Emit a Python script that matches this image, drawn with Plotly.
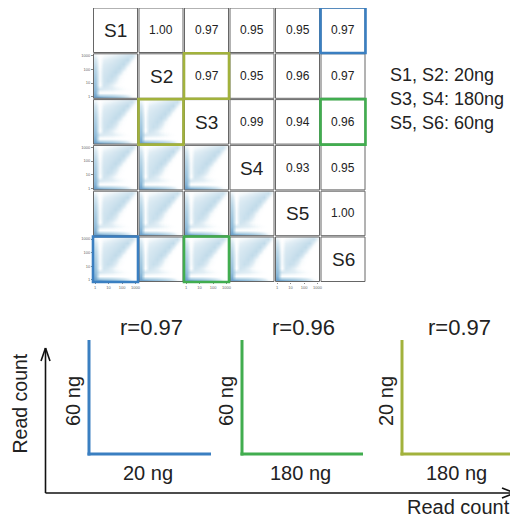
import plotly.graph_objects as go

W, H = 518, 517          # target page size
OFF = 8                  # default page body margin of the written html
FW, FH = W - OFF, H - OFF
FONT = "Liberation Sans, Arial, Helvetica, sans-serif"

# ---------------- data ----------------
samples = ["S1", "S2", "S3", "S4", "S5", "S6"]
# upper-triangle Pearson r (row sample, column sample)
corr_pairs = {
    ("S1", "S2"): 1.00, ("S1", "S3"): 0.97, ("S1", "S4"): 0.95, ("S1", "S5"): 0.95, ("S1", "S6"): 0.97,
    ("S2", "S3"): 0.97, ("S2", "S4"): 0.95, ("S2", "S5"): 0.96, ("S2", "S6"): 0.97,
    ("S3", "S4"): 0.99, ("S3", "S5"): 0.94, ("S3", "S6"): 0.96,
    ("S4", "S5"): 0.93, ("S4", "S6"): 0.95,
    ("S5", "S6"): 1.00,
}
amount_labels = ["S1, S2: 20ng", "S3, S4: 180ng", "S5, S6: 60ng"]
highlights = [("S1", "S6", "#3a7fc1"), ("S2", "S3", "#a2b23c"), ("S3", "S6", "#41ad4f")]
comp_r = [0.97, 0.96, 0.97]
comp_y = ["60 ng", "60 ng", "20 ng"]
comp_x = ["20 ng", "180 ng", "180 ng"]
comp_colors = ["#3a7fc1", "#41ad4f", "#a2b23c"]
axis_label = "Read count"

tick_vals = [0, 1, 2, 3]
tick_text = ["1", "10", "100", "1000"]
# approximate read-count density (log10 bins) as seen in the scatter panels
bin_centers = [0.0, 0.3, 0.6, 0.9, 1.2, 1.5, 1.8, 2.1, 2.4, 2.7, 3.0, 3.3]
density = [
    [0.85, 0.80, 0.75, 0.72, 0.68, 0.62, 0.55, 0.45, 0.32, 0.15, 0.04, 0.00],
    [0.75, 0.05, 0.05, 0.05, 0.05, 0.04, 0.03, 0.02, 0.01, 0.00, 0.00, 0.00],
    [0.70, 0.28, 0.26, 0.24, 0.22, 0.18, 0.14, 0.09, 0.05, 0.02, 0.00, 0.00],
    [0.65, 0.05, 0.33, 0.30, 0.22, 0.12, 0.05, 0.02, 0.00, 0.00, 0.00, 0.00],
    [0.60, 0.10, 0.32, 0.38, 0.34, 0.22, 0.08, 0.03, 0.00, 0.00, 0.00, 0.00],
    [0.55, 0.10, 0.32, 0.35, 0.40, 0.34, 0.16, 0.05, 0.01, 0.00, 0.00, 0.00],
    [0.50, 0.10, 0.30, 0.33, 0.37, 0.42, 0.33, 0.12, 0.03, 0.00, 0.00, 0.00],
    [0.45, 0.08, 0.28, 0.31, 0.34, 0.38, 0.42, 0.30, 0.08, 0.01, 0.00, 0.00],
    [0.38, 0.06, 0.25, 0.28, 0.31, 0.34, 0.38, 0.42, 0.25, 0.05, 0.00, 0.00],
    [0.30, 0.05, 0.20, 0.23, 0.26, 0.30, 0.34, 0.38, 0.42, 0.20, 0.02, 0.00],
    [0.18, 0.03, 0.12, 0.15, 0.18, 0.21, 0.25, 0.29, 0.33, 0.37, 0.15, 0.00],
    [0.05, 0.01, 0.03, 0.05, 0.07, 0.09, 0.11, 0.14, 0.17, 0.20, 0.20, 0.05],
]

# ---------------- layout geometry (page pixels) ----------------
GX0, GY0, PITCH_X, PITCH_Y, CELL_W, CELL_H = 93.5, 8.0, 45.5, 45.8, 44.0, 44.5


def px(x):
    return (x - OFF) / FW


def py(y):
    return 1 - (y - OFF) / FH


def cell_box(i, j):
    x0 = GX0 + j * PITCH_X
    y0 = GY0 + i * PITCH_Y
    return x0, y0, x0 + CELL_W, y0 + CELL_H


def label(text, x, y, size, angle=0, xanchor="center"):
    return dict(text=text, x=px(x), y=py(y), xref="paper", yref="paper", showarrow=False,
                xanchor=xanchor, yanchor="middle", textangle=angle, borderpad=0,
                font=dict(size=size, color="#222222", family=FONT))


fig = go.Figure()
shapes, annotations = [], []
colorscale = [[0, "rgba(255,255,255,0)"], [0.2, "#e5f0f6"], [0.45, "#bcd8e8"],
              [0.7, "#93bedb"], [1, "#4483ba"]]

k = 0
n = len(samples)
for i in range(n):
    for j in range(n):
        x0, y0, x1, y1 = cell_box(i, j)
        shapes.append(dict(type="rect", xref="paper", yref="paper", x0=px(x0), x1=px(x1),
                           y0=py(y1), y1=py(y0), line=dict(color="#666666", width=1), layer="above"))
        if i == j:
            annotations.append(label(samples[i], (x0 + x1) / 2, (y0 + y1) / 2 + 0.5, 19))
        elif j > i:
            r = corr_pairs[(samples[i], samples[j])]
            annotations.append(label(f"{r:.2f}", (x0 + x1) / 2, (y0 + y1) / 2, 12))
        else:
            k += 1
            xa = "x" if k == 1 else f"x{k}"
            ya = "y" if k == 1 else f"y{k}"
            fig.add_trace(go.Heatmap(x=bin_centers, y=bin_centers, z=density, xaxis=xa, yaxis=ya,
                                     colorscale=colorscale, zmin=0, zmax=1, zsmooth="best",
                                     showscale=False, hoverinfo="skip"))
            show_y = (j == 0 and i in (1, 3, 5))
            show_x = (i == n - 1 and j in (0, 2, 4))
            common = dict(range=[-0.12, 3.15], showgrid=False, zeroline=False, showline=False,
                          tickvals=tick_vals, ticktext=tick_text, ticklen=1.5, tickcolor="#888",
                          tickfont=dict(size=4, color="#666", family=FONT), fixedrange=True,
                          automargin=False)
            fig.layout[("xaxis" if k == 1 else f"xaxis{k}")] = dict(
                domain=[px(x0), px(x1)], anchor=ya, showticklabels=show_x,
                ticks="outside" if show_x else "", **common)
            fig.layout[("yaxis" if k == 1 else f"yaxis{k}")] = dict(
                domain=[py(y1), py(y0)], anchor=xa, showticklabels=show_y,
                ticks="outside" if show_y else "", **common)

# highlight boxes
for a, b, col in highlights:
    ia, ib = samples.index(a), samples.index(b)
    for (i, j) in ((ia, ib), (ib, ia)):
        x0, y0, x1, y1 = cell_box(i, j)
        shapes.append(dict(type="rect", xref="paper", yref="paper", x0=px(x0 - 0.5), x1=px(x1 + 0.5),
                           y0=py(y1 + 0.5), y1=py(y0 - 0.5), line=dict(color=col, width=2.6),
                           layer="above"))

# sample amounts legend
for t, lab in enumerate(amount_labels):
    annotations.append(label(lab, 389, 75 + t * 24.2, 18, xanchor="left"))

# ---------------- lower schematic ----------------
vx = [89, 242, 402]
hx_end = [211, 363, 517]
text_cx = [151, 303, 459]
top_y, corner_y = 340, 454
for t in range(3):
    c = comp_colors[t]
    shapes.append(dict(type="line", xref="paper", yref="paper", x0=px(vx[t]), x1=px(vx[t]),
                       y0=py(top_y), y1=py(corner_y + 1.5), line=dict(color=c, width=3)))
    shapes.append(dict(type="line", xref="paper", yref="paper", x0=px(vx[t] - 1.5), x1=px(hx_end[t]),
                       y0=py(corner_y), y1=py(corner_y), line=dict(color=c, width=3)))
    annotations.append(label(f"r={comp_r[t]:.2f}", text_cx[t], 327, 22))
    annotations.append(label(comp_y[t], vx[t] - 16, 401, 20, angle=-90))
    annotations.append(label(comp_x[t], text_cx[t] - 3, 473, 20))

# big axes with open arrowheads
ax_x, ax_y = 45.5, 493
blk = dict(color="#111111", width=1.6)
for (x0, y0, x1, y1) in [(ax_x, ax_y, ax_x, 348), (ax_x, ax_y, 515, ax_y),
                         (ax_x, 348, ax_x - 4.5, 361), (ax_x, 348, ax_x + 4.5, 361),
                         (515, ax_y, 502, ax_y - 5), (515, ax_y, 502, ax_y + 5)]:
    shapes.append(dict(type="line", xref="paper", yref="paper", x0=px(x0), x1=px(x1),
                       y0=py(y0), y1=py(y1), line=blk))
annotations.append(label(axis_label, 19.5, 404, 19.5, angle=-90))
annotations.append(label(axis_label, 458, 507, 20))

fig.update_layout(width=FW, height=FH, margin=dict(l=0, r=0, t=0, b=0, autoexpand=False),
                  paper_bgcolor="white", plot_bgcolor="white", showlegend=False,
                  shapes=shapes, annotations=annotations, font=dict(family=FONT))
fig.write_html("out.html", config={"displayModeBar": False})
